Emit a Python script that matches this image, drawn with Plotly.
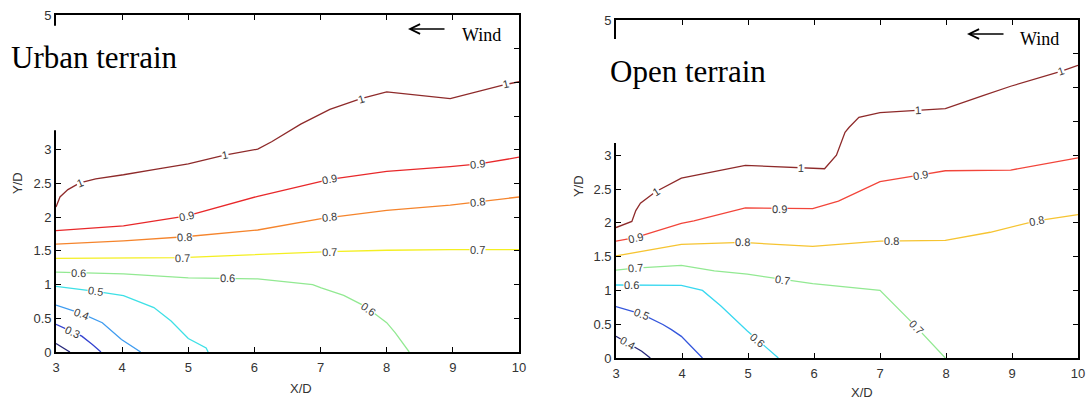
import numpy as np
import plotly.graph_objects as go

W, H = 1092, 403

# ---------------- data: contour lines (X/D, Y/D) ----------------
# Urban terrain
u_levels = ["1", "0.9", "0.8", "0.7", "0.6", "0.5", "0.4", "0.3", "0.2"]
u_x = {
    "1":   [3.0, 3.06, 3.18, 3.36, 3.6, 4.02, 4.5, 5.0, 5.55, 6.05, 6.26, 6.7, 7.14, 7.61, 8.0, 8.96, 9.80, 10.0],
    "0.9": [3.0, 4.02, 4.98, 5.5, 6.05, 7.14, 8.0, 8.96, 9.40, 10.0],
    "0.8": [3.0, 4.02, 4.95, 6.05, 7.01, 8.0, 8.96, 10.0],
    "0.7": [3.0, 4.9, 7.14, 8.0, 8.96, 10.0],
    "0.6": [3.0, 4.02, 5.0, 6.05, 6.88, 7.01, 7.35, 7.66, 8.0, 8.13, 8.34],
    "0.5": [3.0, 3.6, 4.02, 4.48, 4.74, 5.0, 5.27, 5.30],
    "0.4": [3.0, 3.39, 3.70, 3.99, 4.28],
    "0.3": [3.0, 3.26, 3.39, 3.55, 3.68],
    "0.2": [3.0, 3.1, 3.21],
}
u_y = {
    "1":   [2.15, 2.30, 2.41, 2.51, 2.57, 2.63, 2.71, 2.79, 2.92, 3.01, 3.12, 3.38, 3.60, 3.76, 3.86, 3.76, 3.97, 4.01],
    "0.9": [1.80, 1.87, 2.02, 2.16, 2.31, 2.56, 2.68, 2.75, 2.79, 2.89],
    "0.8": [1.60, 1.65, 1.71, 1.81, 1.98, 2.10, 2.18, 2.30],
    "0.7": [1.39, 1.40, 1.49, 1.51, 1.52, 1.52],
    "0.6": [1.185, 1.16, 1.10, 1.085, 1.0, 0.95, 0.84, 0.685, 0.435, 0.285, 0.0],
    "0.5": [0.975, 0.90, 0.835, 0.66, 0.46, 0.20, 0.06, 0.0],
    "0.4": [0.695, 0.57, 0.435, 0.185, 0.0],
    "0.3": [0.41, 0.295, 0.235, 0.11, 0.0],
    "0.2": [0.125, 0.065, 0.0],
}
u_colors = {"1": "#8e2a2a", "0.9": "#e8282a", "0.8": "#f5842c", "0.7": "#f4ef22",
            "0.6": "#92e992", "0.5": "#3ee0e6", "0.4": "#3f9cf0", "0.3": "#3342d0", "0.2": "#27287a"}
u_label_x = {"1": [3.36, 5.55, 7.61, 9.80], "0.9": [4.98, 7.14, 9.38], "0.8": [4.95, 7.14, 9.38],
             "0.7": [4.92, 7.14, 9.38], "0.6": [3.34, 5.60, 7.72], "0.5": [3.6], "0.4": [3.39], "0.3": [3.25]}

# Open terrain
o_levels = ["1", "0.9", "0.8", "0.7", "0.6", "0.5", "0.4"]
o_x = {
    "1":   [3.0, 3.24, 3.30, 3.37, 3.60, 3.99, 4.96, 5.80, 5.98, 6.16, 6.34, 6.41, 6.47, 6.53, 6.68, 7.0, 7.57, 7.99, 8.56, 8.98, 9.74, 10.0],
    "0.9": [3.0, 3.29, 3.99, 4.18, 4.96, 5.48, 5.98, 6.37, 7.0, 7.62, 7.99, 8.98, 10.0],
    "0.8": [3.0, 3.29, 3.99, 4.91, 5.98, 7.0, 7.99, 8.67, 9.37, 10.0],
    "0.7": [3.0, 3.29, 3.99, 4.49, 4.99, 5.53, 5.98, 7.0, 7.52, 7.99],
    "0.6": [3.0, 3.99, 4.31, 4.59, 4.99, 5.14, 5.46],
    "0.5": [3.0, 3.39, 3.71, 3.84, 3.99, 4.31],
    "0.4": [3.0, 3.18, 3.39, 3.52],
}
o_y = {
    "1":   [1.93, 2.02, 2.18, 2.29, 2.46, 2.66, 2.85, 2.81, 2.80, 2.80, 3.0, 3.19, 3.34, 3.41, 3.56, 3.63, 3.67, 3.69, 3.88, 4.02, 4.24, 4.33],
    "0.9": [1.73, 1.78, 1.99, 2.03, 2.22, 2.21, 2.21, 2.32, 2.61, 2.71, 2.77, 2.78, 2.96],
    "0.8": [1.51, 1.56, 1.68, 1.71, 1.65, 1.73, 1.74, 1.86, 2.03, 2.12],
    "0.7": [1.30, 1.33, 1.37, 1.29, 1.24, 1.16, 1.10, 1.0, 0.49, 0.0],
    "0.6": [1.08, 1.075, 1.0, 0.77, 0.40, 0.27, 0.0],
    "0.5": [0.76, 0.65, 0.495, 0.42, 0.32, 0.0],
    "0.4": [0.32, 0.22, 0.10, 0.0],
}
o_colors = {"1": "#8e2a2a", "0.9": "#f2453a", "0.8": "#f6c431", "0.7": "#92e992",
            "0.6": "#38d8f0", "0.5": "#3456dc", "0.4": "#27287a"}
o_label_x = {"1": [3.60, 5.80, 7.57, 9.74], "0.9": [3.29, 5.48, 7.62], "0.8": [4.91, 7.18, 9.37],
             "0.7": [3.29, 5.53, 7.55], "0.6": [3.24, 5.14], "0.5": [3.39], "0.4": [3.18]}

x_ticks = [3, 4, 5, 6, 7, 8, 9, 10]
y_ticks = [0, 0.5, 1, 1.5, 2, 2.5, 3, 3.5, 4, 4.5, 5]
y_ticktext = ["0", "0.5", "1", "1.5", "2", "2.5", "3", "", "", "", "5"]

# ---------------- layout geometry (pixels) ----------------
panels = [
    dict(name="Urban terrain", xa="x", ya="y", px0=56, px1=519, py0=352, py1=15,
         levels=u_levels, xs=u_x, ys=u_y, colors=u_colors, labels=u_label_x,
         title_xy=(9, 57), wind_arrow=(408, 446, 29), wind_txt=(481, 35),
         xt=(301, 388), yt=(18, 183), cover=(4.84, 3.29)),
    dict(name="Open terrain", xa="x2", ya="y2", px0=616, px1=1078, py0=358, py1=20,
         levels=o_levels, xs=o_x, ys=o_y, colors=o_colors, labels=o_label_x,
         title_xy=(608, 71), wind_arrow=(967, 1005, 34), wind_txt=(1039, 39),
         xt=(862, 392), yt=(578, 186), cover=(4.72, 3.18)),
]

fig = go.Figure()
annotations = []
shapes = []

for i, p in enumerate(panels):
    sx = (p["px1"] - p["px0"]) / 7.0
    sy = (p["py0"] - p["py1"]) / 5.0
    for lv in p["levels"]:
        fig.add_trace(go.Scatter(x=p["xs"][lv], y=p["ys"][lv], mode="lines",
                                 line=dict(color=p["colors"][lv], width=1.3),
                                 xaxis=p["xa"], yaxis=p["ya"], showlegend=False,
                                 hoverinfo="skip"))
        xs = np.array(p["xs"][lv]); ys = np.array(p["ys"][lv])
        for lx in p["labels"].get(lv, []):
            ly = float(np.interp(lx, xs, ys))
            d = 0.08
            y1 = np.interp(lx + d, xs, ys); y0 = np.interp(lx - d, xs, ys)
            ang = -np.degrees(np.arctan2((y1 - y0) * sy, 2 * d * sx))
            annotations.append(dict(x=lx, y=ly, xref=p["xa"], yref=p["ya"], text=lv,
                                    showarrow=False, textangle=float(ang),
                                    xanchor="center", yanchor="middle",
                                    font=dict(family="Liberation Sans", size=11, color="#3a3a3a"),
                                    bgcolor="white", borderpad=0))
    # white cover hiding part of the left axis
    shapes.append(dict(type="rect", xref="paper", yref=p["ya"],
                       x0=(p["px0"] - 6) / W, x1=(p["px0"] + 8) / W,
                       y0=p["cover"][1], y1=p["cover"][0],
                       fillcolor="white", line=dict(width=0), layer="above"))
    # panel title
    annotations.append(dict(x=p["title_xy"][0] / W, y=1 - p["title_xy"][1] / H, xref="paper", yref="paper",
                            text=p["name"], showarrow=False, xanchor="left", yanchor="middle",
                            font=dict(family="Liberation Serif", size=31, color="black")))
    # wind arrow and label
    ax0, ax1, ay = p["wind_arrow"]
    annotations.append(dict(x=ax0 / W, y=1 - ay / H, ax=ax1 - ax0, ay=0,
                            xref="paper", yref="paper", axref="pixel", ayref="pixel",
                            text="", showarrow=True, arrowhead=5, arrowsize=1.3, arrowwidth=1.5,
                            arrowcolor="black"))
    annotations.append(dict(x=p["wind_txt"][0] / W, y=1 - p["wind_txt"][1] / H, xref="paper", yref="paper",
                            text="Wind", showarrow=False, xanchor="center", yanchor="middle",
                            font=dict(family="Liberation Serif", size=18, color="black")))
    # axis titles
    annotations.append(dict(x=p["xt"][0] / W, y=1 - p["xt"][1] / H, xref="paper", yref="paper",
                            text="X/D", showarrow=False, xanchor="center", yanchor="middle",
                            font=dict(family="Liberation Sans", size=13, color="#333")))
    annotations.append(dict(x=p["yt"][0] / W, y=1 - p["yt"][1] / H, xref="paper", yref="paper",
                            text="Y/D", showarrow=False, textangle=-90, xanchor="center", yanchor="middle",
                            font=dict(family="Liberation Sans", size=13, color="#333")))

    ax_common = dict(showline=True, linecolor="black", linewidth=1.6, mirror="ticks",
                     ticks="inside", ticklen=5, tickwidth=1.2, tickcolor="black",
                     showgrid=False, zeroline=False, automargin=False,
                     tickfont=dict(family="Liberation Sans", size=13, color="#333"))
    xkey = "xaxis" if i == 0 else "xaxis2"
    ykey = "yaxis" if i == 0 else "yaxis2"
    fig.update_layout({
        xkey: dict(domain=[p["px0"] / W, p["px1"] / W], range=[3, 10], tickvals=x_ticks,
                   anchor=p["ya"], ticklabelstandoff=3, **ax_common),
        ykey: dict(domain=[1 - p["py0"] / H, 1 - p["py1"] / H], range=[0, 5], tickvals=y_ticks,
                   ticktext=y_ticktext, anchor=p["xa"], **ax_common),
    })

fig.update_layout(width=W, height=H, margin=dict(l=0, r=0, t=0, b=0, autoexpand=False),
                  plot_bgcolor="white", paper_bgcolor="white",
                  annotations=annotations, shapes=shapes, showlegend=False)

fig.write_html("out.html")
